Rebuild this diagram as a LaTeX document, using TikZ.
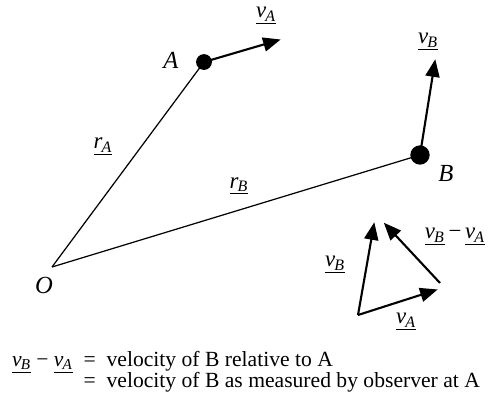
\documentclass[tikz,border=0pt]{standalone}
\usepackage{fontspec}
\setmainfont{Liberation Serif}
\usetikzlibrary{arrows.meta,positioning}
\newcommand{\vecv}[2]{\underline{\textit{#1}\textsubscript{\kern-0.5pt\textit{#2}}}}

\begin{document}
\begin{tikzpicture}[x=0.02cm, y=-0.02cm,
  dot/.style={circle, fill=black, inner sep=0pt},
  posline/.style={line width=0.7pt},
  vel/.style={-{Triangle[length=10pt, width=8pt]}, line width=1.2pt, shorten >=-1pt},
  lab/.style={font=\fontsize{13}{15}\selectfont, inner sep=1pt},
  pt/.style={font=\fontsize{14}{16}\selectfont\itshape, inner sep=1pt}]
\useasboundingbox (0,0) rectangle (491,393);
% points and position vectors
\coordinate (O) at (52,267);
\node[dot, minimum size=9pt] (A) at (204,62) {};
\node[dot, minimum size=11pt] (B) at (420,155) {};
\node[pt] (Olab) at (44,285) {O};
\node[pt] (Alab) at (171,60) {A};
\node[pt] (Blab) at (446,173) {B};
\draw[posline] (O) -- (A.center);
\draw[posline] (O) -- (B.center);
\node[lab] (rA) at (103,147) {\vecv{r}{A}};
\node[lab] (rB) at (239,186) {\vecv{r}{B}};
% velocities
\coordinate (vAtip) at (279,40);
\coordinate (vBtip) at (435,61);
\draw[vel] (A.center) -- (vAtip);
\draw[vel] (B.center) -- (vBtip);
\node[lab] (vA) at (266,16) {\vecv{v}{A}};
\node[lab] (vB) at (428,42) {\vecv{v}{B}};
% velocity triangle
\coordinate (T0) at (358,315);
\coordinate (T1) at (436,290);
\coordinate (T2) at (374,224);
\coordinate (T3) at (440,283);
\coordinate (T4) at (385,224);
\draw[vel] (T0) -- (T1);
\draw[vel] (T0) -- (T2);
\draw[vel] (T3) -- (T4);
\node[lab] (vBt) at (335,265) {\vecv{v}{B}};
\node[lab] (vAt) at (406,322) {\vecv{v}{A}};
\node[lab] (vBAt) at (455,237) {\vecv{v}{B}\,−\,\vecv{v}{A}};
% definition
\node[lab, font=\fontsize{12.3}{15}\selectfont, anchor=north west, align=left] (def) at (10,346)
  {\begin{tabular}{@{}r@{\ \ }l@{}}
   \vecv{v}{B}\ −\ \vecv{v}{A}\ \ = & velocity of B relative to A\\[-3pt]
   = & velocity of B as measured by observer at A
   \end{tabular}};
\end{tikzpicture}
\end{document}
